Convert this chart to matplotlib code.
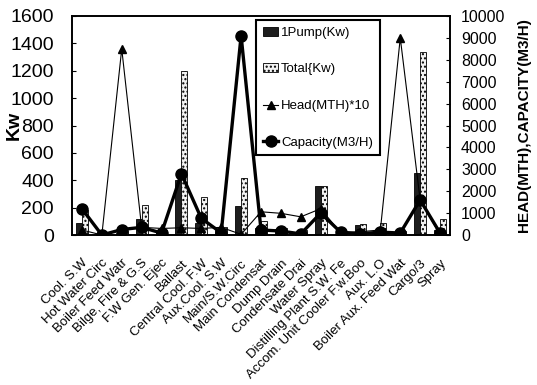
import matplotlib
matplotlib.use("Agg")
import matplotlib.pyplot as plt
import numpy as np
from matplotlib.lines import Line2D
from matplotlib.patches import Patch

categories = [
    "Cool. S.W", "Hot Water Circ", "Boiler Feed Watr", "Bilge, Fire & G.S",
    "F.W Gen. Ejec", "Ballast", "Central Cool. F.W", "Aux.Cool. S.W",
    "Main/S.W.Circ", "Main Condensat", "Dump Drain", "Condensate Drai",
    "Water Spray", "Distilling Plant S.W. Fe", "Accom. Unit Cooler F.w.Boo",
    "Aux. L.O", "Boiler Aux. Feed Wat", "Cargo/3", "Spray",
]

# power per pump and total installed power (kW)
pump_kw = [90, 5, 15, 115, 20, 400, 90, 35, 210, 50, 45, 20, 355, 10, 75, 40, 15, 450, 40]
total_kw = [180, 10, 30, 220, 40, 1200, 275, 55, 420, 100, 50, 40, 360, 20, 80, 85, 30, 1340, 120]

# head (MTH x 10) and capacity (m3/h)
head_x10 = [230, 0, 8500, 350, 300, 330, 300, 350, 30, 1060, 990, 830, 1200, 100, 150, 230, 9000, 1600, 0]
capacity = [1200, 0, 250, 350, 90, 2800, 760, 100, 9100, 230, 180, 50, 1000, 130, 60, 130, 90, 1600, 90]

left_ticks = list(range(0, 1601, 200))
right_ticks = list(range(0, 10001, 1000))

plt.rcParams["font.family"] = ["Liberation Sans", "DejaVu Sans"]

fig = plt.figure(figsize=(5.37, 3.85), dpi=100)
ax = fig.add_axes([72 / 537, 1 - 235 / 385, (450 - 72) / 537, (235 - 16) / 385])

x = np.arange(len(categories))
w = 0.3
ax.bar(x - w / 2, pump_kw, w, facecolor="#1e1e1e", edgecolor="black", lw=0.6, zorder=2)
ax.bar(x + w / 2, total_kw, w, facecolor="#f2f2f2", edgecolor="black", hatch="....", lw=0.6, zorder=2)

ax.set_xlim(-0.5, len(categories) - 0.5)
ax.set_ylim(0, 1600)
ax.set_yticks(left_ticks)
ax.set_yticklabels([str(t) for t in left_ticks], fontsize=14)
ax.tick_params(axis="y", direction="in", length=3, pad=13)
ax.set_xticks(x)
ax.set_xticklabels(categories, rotation=45, ha="right", va="top",
                   rotation_mode="anchor", fontsize=9.5)
ax.tick_params(axis="x", length=0, pad=16)
ax.set_ylabel("Kw", fontsize=14, fontweight="bold")
ax.yaxis.set_label_coords(-0.13, 0.5)
for s in ax.spines.values():
    s.set_linewidth(1.2)

ax2 = ax.twinx()
ax2.plot(x, head_x10, color="black", lw=0.8, marker="^", ms=6, zorder=3)
ax2.plot(x, capacity, color="black", lw=2.4, marker="o", ms=8, zorder=4)
ax2.set_ylim(0, 10000)
ax2.set_yticks(right_ticks)
ax2.set_yticklabels([str(t) for t in right_ticks], fontsize=11.5)
ax2.tick_params(axis="y", direction="in", length=3, pad=8)
ax2.set_ylabel("HEAD(MTH),CAPACITY(M3/H)", fontsize=11, fontweight="bold", labelpad=8)
for s in ax2.spines.values():
    s.set_linewidth(1.2)

handles = [
    Patch(facecolor="#1e1e1e", edgecolor="black", lw=0.6),
    Patch(facecolor="#f2f2f2", edgecolor="black", hatch="....", lw=0.6),
    Line2D([], [], color="black", lw=0.8, marker="^", ms=6),
    Line2D([], [], color="black", lw=2.4, marker="o", ms=8),
]
labels = ["1Pump(Kw)", "Total{Kw)", "Head(MTH)*10", "Capacity(M3/H)"]
leg = ax2.legend(handles, labels, loc="upper left",
                 bbox_to_anchor=(256 / 537, 1 - 20 / 385),
                 bbox_transform=fig.transFigure, frameon=True, fancybox=False,
                 edgecolor="black", framealpha=1, borderpad=0.5,
                 labelspacing=1.85, handlelength=1.2, handletextpad=0.2,
                 borderaxespad=0, prop={"size": 9.5})
leg.get_frame().set_linewidth(1.5)

fig.savefig("out.png", dpi=100)
